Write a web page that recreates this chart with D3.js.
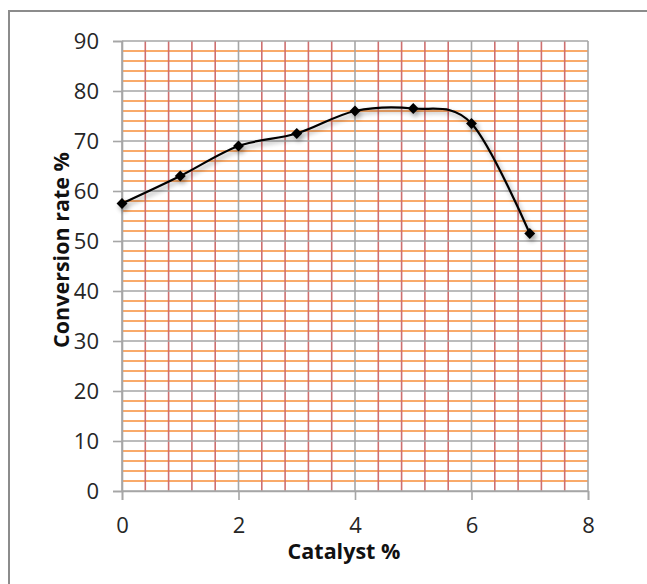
<!DOCTYPE html>
<html lang="en">
<head>
  <meta charset="UTF-8" />
  <title>Conversion rate vs catalyst</title>
  <style>
    html, body { margin: 0; background: #fff; }
    svg { display: block; }
    .tick text { font-family: "Open Sans", "Noto Sans", sans-serif; font-size: 22px; fill: #262626; }
    .axis-title { font-family: "Open Sans", "Noto Sans", sans-serif; font-weight: bold; font-size: 21.5px; fill: #111; }
  </style>
</head>
<body>
  <svg id="chart" width="647" height="584"></svg>

  <script src="https://cdn.jsdelivr.net/npm/d3@7"></script>
  <script>
    // data
    const catalyst = [0, 1, 2, 3, 4, 5, 6, 7];
    const conversion = [57.5, 63, 69, 71.5, 76, 76.5, 73.5, 51.5];
    const xTicks = [0, 2, 4, 6, 8];
    const yTicks = [0, 10, 20, 30, 40, 50, 60, 70, 80, 90];

    const svg = d3.select("#chart");
    const margin = {top: 41, left: 122, right: 59, bottom: 93};
    const width = 647 - margin.left - margin.right,
          height = 584 - margin.top - margin.bottom;

    // outer chart frame (runs off the right / bottom edges)
    svg.append("rect")
      .attr("x", 9).attr("y", 11)
      .attr("width", 700).attr("height", 700)
      .attr("fill", "none")
      .attr("stroke", "#8c8c8c")
      .attr("stroke-width", 2);

    const defs = svg.append("defs");
    const shadow = defs.append("filter").attr("id", "shadow")
      .attr("x", "-20%").attr("y", "-20%").attr("width", "140%").attr("height", "160%");
    shadow.append("feGaussianBlur").attr("in", "SourceAlpha").attr("stdDeviation", 2.4);
    shadow.append("feOffset").attr("dx", 1.5).attr("dy", 3).attr("result", "blur");
    shadow.append("feComponentTransfer").append("feFuncA").attr("type", "linear").attr("slope", 0.4);
    const merge = shadow.append("feMerge");
    merge.append("feMergeNode");
    merge.append("feMergeNode").attr("in", "SourceGraphic");

    const g = svg.append("g")
      .attr("transform", `translate(${margin.left},${margin.top})`);

    const x = d3.scaleLinear().domain([0, 8]).range([0, width]);
    const y = d3.scaleLinear().domain([0, 90]).range([height, 0]);

    // minor grid: red verticals every 0.4, orange horizontals every 2
    const xMinor = d3.range(0, 8.001, 0.4).filter(v => Math.abs(v / 2 - Math.round(v / 2)) > 0.01);
    const yMinor = d3.range(0, 90.001, 2).filter(v => v % 10 !== 0);

    g.selectAll(".hminor").data(yMinor).enter().append("line")
      .attr("x1", 0).attr("x2", width)
      .attr("y1", d => y(d)).attr("y2", d => y(d))
      .attr("stroke", "#f9aa6a").attr("stroke-width", 1.8);

    g.selectAll(".vminor").data(xMinor).enter().append("line")
      .attr("x1", d => x(d)).attr("x2", d => x(d))
      .attr("y1", 0).attr("y2", height)
      .attr("stroke", "#cf6f6f").attr("stroke-width", 1.6);

    // major grid
    g.selectAll(".hmajor").data(yTicks).enter().append("line")
      .attr("x1", 0).attr("x2", width)
      .attr("y1", d => y(d)).attr("y2", d => y(d))
      .attr("stroke", "#a6a6a6").attr("stroke-width", 1.6);

    g.selectAll(".vmajor").data(xTicks).enter().append("line")
      .attr("x1", d => x(d)).attr("x2", d => x(d))
      .attr("y1", 0).attr("y2", height)
      .attr("stroke", "#a6a6a6").attr("stroke-width", 1.6);

    // axes
    const xAxis = g.append("g")
      .attr("transform", `translate(0,${height})`)
      .call(d3.axisBottom(x).tickValues(xTicks).tickSize(9).tickPadding(17));
    const yAxis = g.append("g")
      .call(d3.axisLeft(y).tickValues(yTicks).tickSize(9).tickPadding(14));

    [xAxis, yAxis].forEach(a => {
      a.select(".domain").attr("stroke", "#a6a6a6").attr("stroke-width", 1.6);
      a.selectAll(".tick line").attr("stroke", "#a6a6a6").attr("stroke-width", 1.6);
    });

    // smoothed series
    const pts = catalyst.map((c, i) => [c, conversion[i]]);
    const line = d3.line()
      .x(d => x(d[0])).y(d => y(d[1]))
      .curve(d3.curveCatmullRom.alpha(0));

    const series = g.append("g").attr("filter", "url(#shadow)");
    series.append("path")
      .datum(pts)
      .attr("d", line)
      .attr("fill", "none")
      .attr("stroke", "#000")
      .attr("stroke-width", 2.2);

    series.selectAll(".pt").data(pts).enter().append("path")
      .attr("d", d3.symbol(d3.symbolDiamond2, 75))
      .attr("transform", d => `translate(${x(d[0])},${y(d[1])})`)
      .attr("fill", "#000");

    // axis titles
    svg.append("text")
      .attr("class", "axis-title")
      .attr("x", 344).attr("y", 559)
      .attr("text-anchor", "middle")
      .text("Catalyst %");

    svg.append("text")
      .attr("class", "axis-title")
      .attr("transform", "translate(69,250) rotate(-90)")
      .attr("text-anchor", "middle")
      .text("Conversion rate %");
  </script>
</body>
</html>
